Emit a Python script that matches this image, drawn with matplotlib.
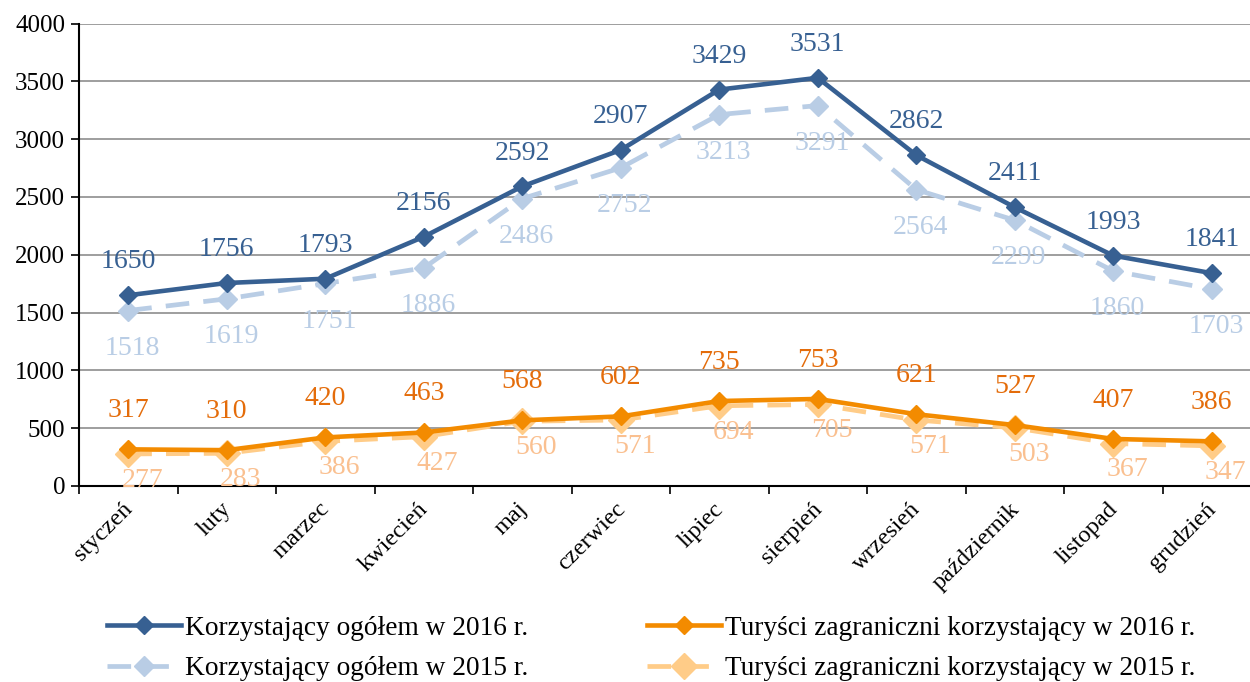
import numpy as np
import matplotlib.pyplot as plt
from matplotlib import transforms

plt.rcParams['font.family'] = ['Liberation Serif', 'DejaVu Serif']

# months
months = ['styczeń', 'luty', 'marzec', 'kwiecień', 'maj', 'czerwiec',
          'lipiec', 'sierpień', 'wrzesień', 'październik', 'listopad', 'grudzień']

# series
total_2016 = [1650, 1756, 1793, 2156, 2592, 2907, 3429, 3531, 2862, 2411, 1993, 1841]
total_2015 = [1518, 1619, 1751, 1886, 2486, 2752, 3213, 3291, 2564, 2299, 1860, 1703]
foreign_2016 = [317, 310, 420, 463, 568, 602, 735, 753, 621, 527, 407, 386]
foreign_2015 = [277, 283, 386, 427, 560, 571, 694, 705, 571, 503, 367, 347]

labels = ['Korzystający ogółem w 2016 r.', 'Korzystający ogółem w 2015 r.',
          'Turyści zagraniczni korzystający w 2016 r.', 'Turyści zagraniczni korzystający w 2015 r.']

dark_blue = '#376092'
light_blue = '#B9CDE5'
orange = '#F38B00'
light_orange = '#FFCC88'
orange_txt = '#E46C0A'
light_orange_txt = '#FAC090'

fig = plt.figure(figsize=(12.5, 6.82), dpi=100)
ax = fig.add_axes([0.0632, 0.2874, 0.9456, 0.678])

x = np.arange(len(months))

# plot order: light ones under the dark ones
l2, = ax.plot(x, total_2015, color=light_blue, lw=3.4, ls=(0, (5, 3)), marker='D', ms=10,
              label=labels[1], zorder=3)
l4, = ax.plot(x, foreign_2015, color=light_orange, lw=3.4, ls=(0, (5, 3)), marker='D', ms=13,
              label=labels[3], zorder=3)
l1, = ax.plot(x, total_2016, color=dark_blue, lw=3.3, marker='D', ms=9, label=labels[0], zorder=4)
l3, = ax.plot(x, foreign_2016, color=orange, lw=3.3, marker='D', ms=9, label=labels[2], zorder=4)

# data labels
fs = 20
for i in x:
    ax.annotate(str(total_2016[i]), (i, total_2016[i]), xytext=(0, 24), textcoords='offset points',
                ha='center', va='center', fontsize=fs, color=dark_blue, zorder=5)
    ax.annotate(str(total_2015[i]), (i, total_2015[i]), xytext=(3, -27), textcoords='offset points',
                ha='center', va='center', fontsize=fs, color=light_blue, zorder=5)
    ax.annotate(str(foreign_2016[i]), (i, foreign_2016[i]), xytext=(0, 28), textcoords='offset points',
                ha='center', va='center', fontsize=fs, color=orange_txt, zorder=5)
    ax.annotate(str(foreign_2015[i]), (i, foreign_2015[i]), xytext=(10, -19), textcoords='offset points',
                ha='center', va='center', fontsize=fs, color=light_orange_txt, zorder=5)

ax.set_xlim(-0.5, len(months) - 0.5)
ax.set_ylim(0, 4000)
ax.set_yticks(np.arange(0, 4001, 500))
ax.tick_params(axis='y', labelsize=18, direction='out', length=6, width=1.2, pad=4)
ax.yaxis.grid(True, color='#969696', lw=1.3)
ax.set_axisbelow(True)

# category ticks on boundaries, labels at centres
ax.set_xticks(np.arange(-0.5, len(months), 1))
ax.set_xticklabels([])
ax.tick_params(axis='x', direction='out', length=6, width=1.2)
ax.set_xticks(x, minor=True)
ax.set_xticklabels(months, minor=True, rotation=45, ha='right', rotation_mode='anchor', fontsize=17.5)
ax.tick_params(axis='x', which='minor', length=0, pad=9)
offset = transforms.ScaledTranslation(-6 / 100, 0, fig.dpi_scale_trans)
for lab in ax.get_xticklabels(minor=True):
    lab.set_transform(lab.get_transform() + offset)

for s in ['top', 'right']:
    ax.spines[s].set_visible(False)
for s in ['left', 'bottom']:
    ax.spines[s].set_linewidth(1.5)

fig.legend(handles=[l1, l2, l3, l4], labels=labels,
           ncol=2, loc='center', bbox_to_anchor=(0.521, 0.049), frameon=False, fontsize=19.7,
           handlelength=2.7, handletextpad=0.15, columnspacing=4.35, labelspacing=0.55)

fig.savefig('out.png', dpi=100)
